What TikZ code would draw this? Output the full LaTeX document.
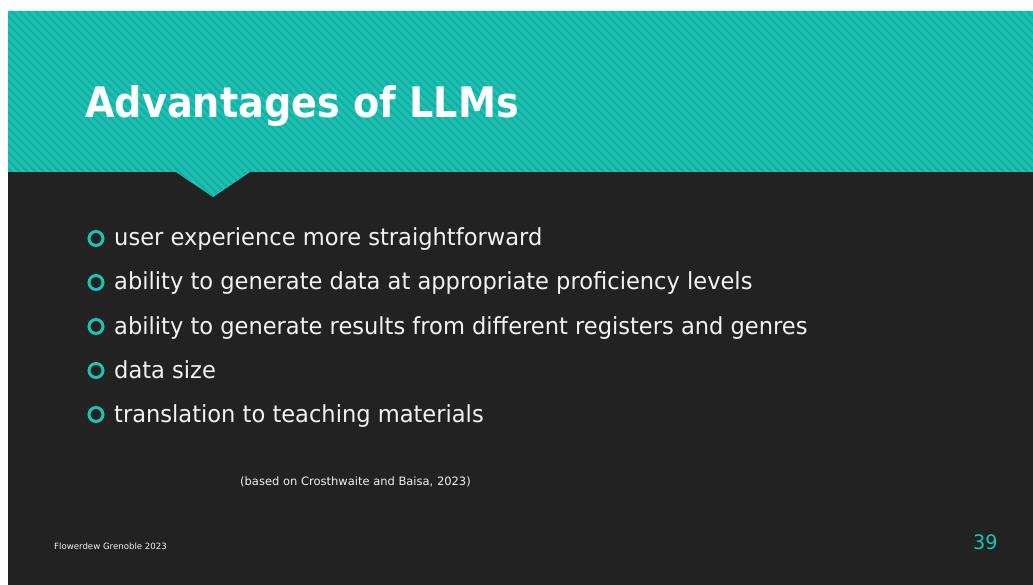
\documentclass[tikz,border=0pt]{standalone}
\usepackage{fontspec}
\setmainfont{DejaVu Sans}
\newfontfamily\titlefont[FakeStretch=0.91]{DejaVu Sans Bold}
\newfontfamily\bodyfont[FakeStretch=0.96]{DejaVu Sans}
\newfontfamily\smallfont[FakeStretch=1.0]{DejaVu Sans}
\definecolor{teal1}{HTML}{1CC2B4}
\definecolor{teal2}{HTML}{16B0A3}
\definecolor{darkbg}{HTML}{222222}
\definecolor{txt}{HTML}{F2F2F2}
\tikzset{
  bullettext/.style={anchor=base west, text=txt, inner sep=0pt, font=\bodyfont\fontsize{23.5}{26}\selectfont},
  ring/.style={draw=teal1, line width=3pt, circle, minimum size=14pt, inner sep=0pt},
}
\begin{document}
\begin{tikzpicture}[x=1pt,y=-1pt]
\useasboundingbox (0,0) rectangle (1033,585);
\fill[white] (0,0) rectangle (1033,585);
\fill[darkbg] (8,11) rectangle (1033,585);
% teal band with notch
\begin{scope}
\clip (8,11) -- (1033,11) -- (1033,172) -- (250,172) -- (213,197) -- (176,172) -- (8,172) -- cycle;
\fill[teal1] (0,0) rectangle (1033,200);
\foreach \i in {-30,...,140} {
  \draw[teal2, line width=2.6pt] (\i*8,0) -- ++(220,220);
}
\end{scope}
% title
\node[anchor=base west, text=white, inner sep=0pt, font=\titlefont\fontsize{42}{46}\selectfont] (title) at (85,118) {Advantages of LLMs};
% bullets
\node[ring] (b1) at (96,238.5) {};
\node[bullettext] (t1) at (114,246) {user experience more straightforward};
\node[ring] (b2) at (96,282.5) {};
\node[bullettext] (t2) at (114,290) {ability to generate data at appropriate proficiency levels};
\node[ring] (b3) at (96,326.5) {};
\node[bullettext] (t3) at (114,334) {ability to generate results from different registers and genres};
\node[ring] (b4) at (96,370.5) {};
\node[bullettext] (t4) at (114,378) {data size};
\node[ring] (b5) at (96,414.5) {};
\node[bullettext] (t5) at (114,422) {translation to teaching materials};
% citation
\node[anchor=base west, text=txt, inner sep=0pt, font=\smallfont\fontsize{11.5}{13}\selectfont] (cite) at (240,485) {(based on Crosthwaite and Baisa, 2023)};
% footer
\node[anchor=base west, text=txt, inner sep=0pt, font=\smallfont\fontsize{8.6}{10}\selectfont] (foot) at (54,549) {Flowerdew Grenoble 2023};
\node[anchor=base west, text=teal1, inner sep=0pt, font=\bodyfont\fontsize{20}{22}\selectfont] (num) at (973,549) {39};
\end{tikzpicture}
\end{document}
